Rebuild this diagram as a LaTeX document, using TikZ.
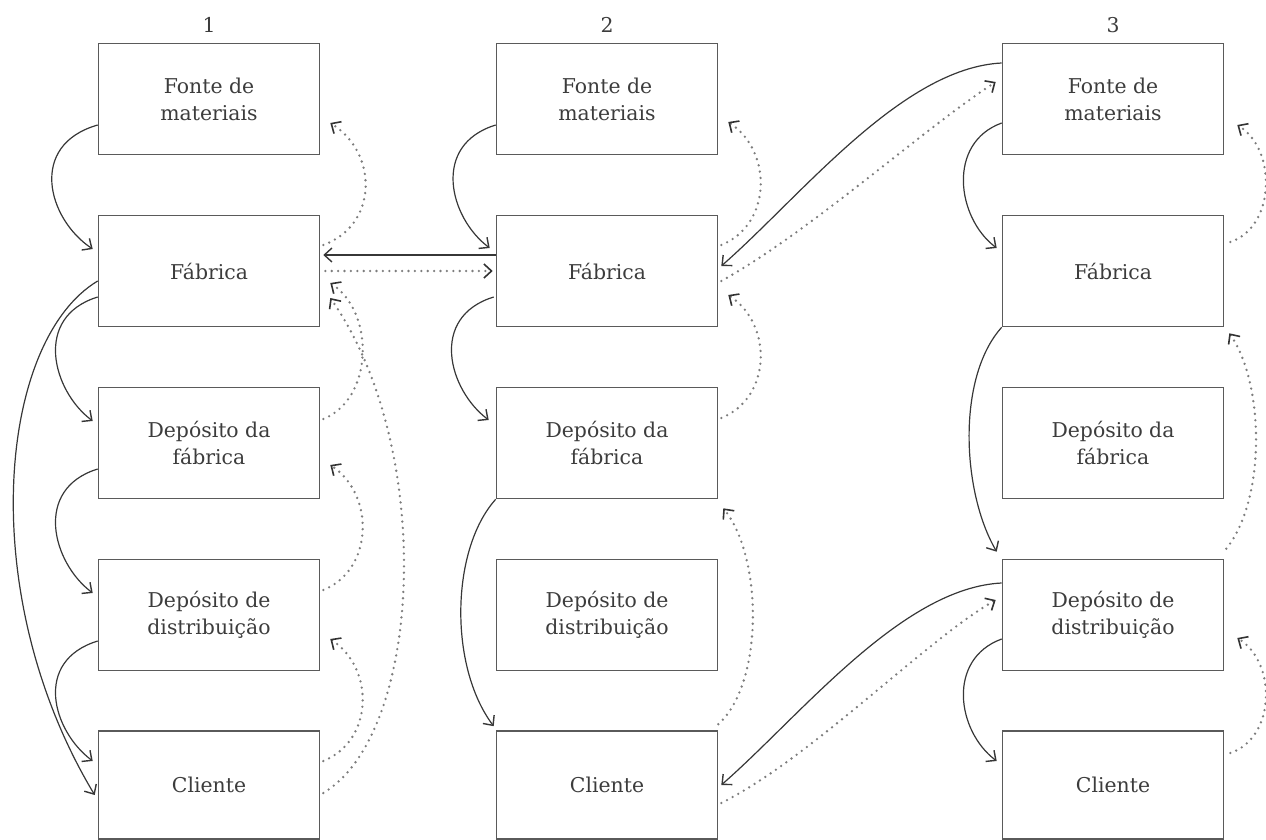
\documentclass[tikz,border=0pt]{standalone}
\usepackage{fontspec}
\setmainfont{DejaVu Serif}
\usetikzlibrary{arrows.meta,calc}
\definecolor{boxgray}{RGB}{90,90,90}
\definecolor{txtgray}{RGB}{60,60,60}
\definecolor{linegray}{RGB}{55,55,55}
\definecolor{dotgray}{RGB}{125,125,125}
\definecolor{tipgray}{RGB}{50,50,50}
\begin{document}
\begin{tikzpicture}[x=0.5pt,y=-0.5pt,
  box/.style={draw=boxgray, line width=0.8pt, minimum width=110.5pt, minimum height=55.5pt,
    inner sep=0pt, align=center, text=txtgray, font=\fontsize{10.2}{13.5}\selectfont},
  lastbox/.style={box, minimum height=54pt},
  lab/.style={text=txtgray, font=\fontsize{10.2}{13.5}\selectfont, inner sep=0pt},
  mat/.style={draw=linegray, line width=0.6pt, -{Straight Barb[length=3.8pt,width=7pt,line width=0.7pt]}},
  info/.style={draw=dotgray, line width=1.3pt, line cap=round, dash pattern=on 0pt off 3.2pt,
    -{Straight Barb[length=3.8pt,width=7pt,line width=0.8pt,color=tipgray]}}
]
\useasboundingbox (0,0) rectangle (1266,840);
% column labels
\node[lab] (l1) at (209,25) {1};
\node[lab] (l2) at (607,25) {2};
\node[lab] (l3) at (1113,25) {3};
% column 1
\node[box] (F1) at (209,99) {Fonte de\\materiais};
\node[box] (B1) at (209,271) {Fábrica};
\node[box] (D1) at (209,443) {Depósito da\\fábrica};
\node[box] (R1) at (209,615) {Depósito de\\distribuição};
\node[lastbox] (C1) at (209,785) {Cliente};
% column 2
\node[box] (F2) at (607,99) {Fonte de\\materiais};
\node[box] (B2) at (607,271) {Fábrica};
\node[box] (D2) at (607,443) {Depósito da\\fábrica};
\node[box] (R2) at (607,615) {Depósito de\\distribuição};
\node[lastbox] (C2) at (607,785) {Cliente};
% column 3
\node[box] (F3) at (1113,99) {Fonte de\\materiais};
\node[box] (B3) at (1113,271) {Fábrica};
\node[box] (D3) at (1113,443) {Depósito da\\fábrica};
\node[box] (R3) at (1113,615) {Depósito de\\distribuição};
\node[lastbox] (C3) at (1113,785) {Cliente};

% ---------- column 1: material (solid, left)
\draw[mat] ($(F1.west)+(0,26)$) .. controls +(-70,20) and +(-45,-30) .. ($(B1.west)+(-5,-22)$);
\draw[mat] ($(B1.west)+(0,26)$) .. controls +(-65,20) and +(-40,-30) .. ($(D1.west)+(-5,-22)$);
\draw[mat] ($(B1.west)+(0,10)$) .. controls +(-100,60) and +(-120,-200) .. ($(C1.west)+(-3,10)$);
\draw[mat] ($(D1.west)+(0,26)$) .. controls +(-65,20) and +(-40,-30) .. ($(R1.west)+(-5,-22)$);
\draw[mat] ($(R1.west)+(0,26)$) .. controls +(-65,20) and +(-40,-30) .. ($(C1.west)+(-5,-24)$);
% ---------- column 1: information (dotted, right)
\draw[info] ($(B1.east)+(3,-26)$) .. controls +(55,-20) and +(48,30) .. ($(F1.east)+(10,24)$);
\draw[info] ($(D1.east)+(3,-24)$) .. controls +(50,-20) and +(45,30) .. ($(B1.east)+(10,12)$);
\draw[info] ($(R1.east)+(3,-25)$) .. controls +(50,-20) and +(45,30) .. ($(D1.east)+(10,22)$);
\draw[info] ($(C1.east)+(3,-24)$) .. controls +(50,-20) and +(45,30) .. ($(R1.east)+(10,24)$);
\draw[info] ($(C1.east)+(3,8)$) .. controls +(100,-60) and +(105,150) .. ($(B1.east)+(10,27)$);

% ---------- between columns 1 and 2
\draw[mat] ($(B2.west)+(0,-16)$) -- ($(B1.east)+(3,-16)$);
\draw[info] ($(B1.east)+(5,0)$) -- ($(B2.west)+(-3,0)$);

% ---------- column 2: material
\draw[mat] ($(F2.west)+(0,26)$) .. controls +(-65,20) and +(-40,-30) .. ($(B2.west)+(-6,-23)$);
\draw[mat] ($(B2.west)+(-2,26)$) .. controls +(-65,20) and +(-40,-30) .. ($(D2.west)+(-7,-23)$);
\draw[mat] (D2.south west) .. controls +(-45,50) and +(-45,-60) .. ($(C2.north west)+(-2,-4)$);
% ---------- column 2: information
\draw[info] ($(B2.east)+(3,-26)$) .. controls +(50,-20) and +(45,30) .. ($(F2.east)+(10,23)$);
\draw[info] ($(D2.east)+(3,-25)$) .. controls +(50,-20) and +(45,30) .. ($(B2.east)+(10,24)$);
\draw[info] ($(C2.north east)+(0,-6)$) .. controls +(45,-40) and +(40,50) .. ($(D2.south east)+(5,9)$);

% ---------- between columns 2 and 3
\draw[mat] ($(F3.west)+(0,-36)$) .. controls +(-100,5) and +(80,-70) .. ($(B2.east)+(3,-5)$);
\draw[info] ($(B2.east)+(3,10)$) .. controls +(90,-50) and +(-70,45) .. ($(F3.west)+(-6,-17)$);
\draw[mat] ($(R3.west)+(0,-32)$) .. controls +(-100,5) and +(80,-70) .. ($(C2.east)+(3,0)$);
\draw[info] ($(C2.east)+(3,18)$) .. controls +(90,-45) and +(-70,40) .. ($(R3.west)+(-6,-15)$);

% ---------- column 3: material
\draw[mat] ($(F3.west)+(0,24)$) .. controls +(-55,20) and +(-40,-30) .. ($(B3.west)+(-5,-23)$);
\draw[mat] (B3.south west) .. controls +(-45,50) and +(-35,-60) .. ($(R3.north west)+(-5,-7)$);
\draw[mat] ($(R3.west)+(0,24)$) .. controls +(-55,20) and +(-40,-30) .. ($(C3.west)+(-5,-24)$);
% ---------- column 3: information
\draw[info] ($(B3.east)+(6,-29)$) .. controls +(45,-15) and +(40,25) .. ($(F3.east)+(13,26)$);
\draw[info] ($(R3.north east)+(2,-10)$) .. controls +(40,-50) and +(35,50) .. ($(B3.south east)+(5,6)$);
\draw[info] ($(C3.east)+(6,-32)$) .. controls +(45,-15) and +(40,25) .. ($(R3.east)+(13,23)$);
\end{tikzpicture}
\end{document}
